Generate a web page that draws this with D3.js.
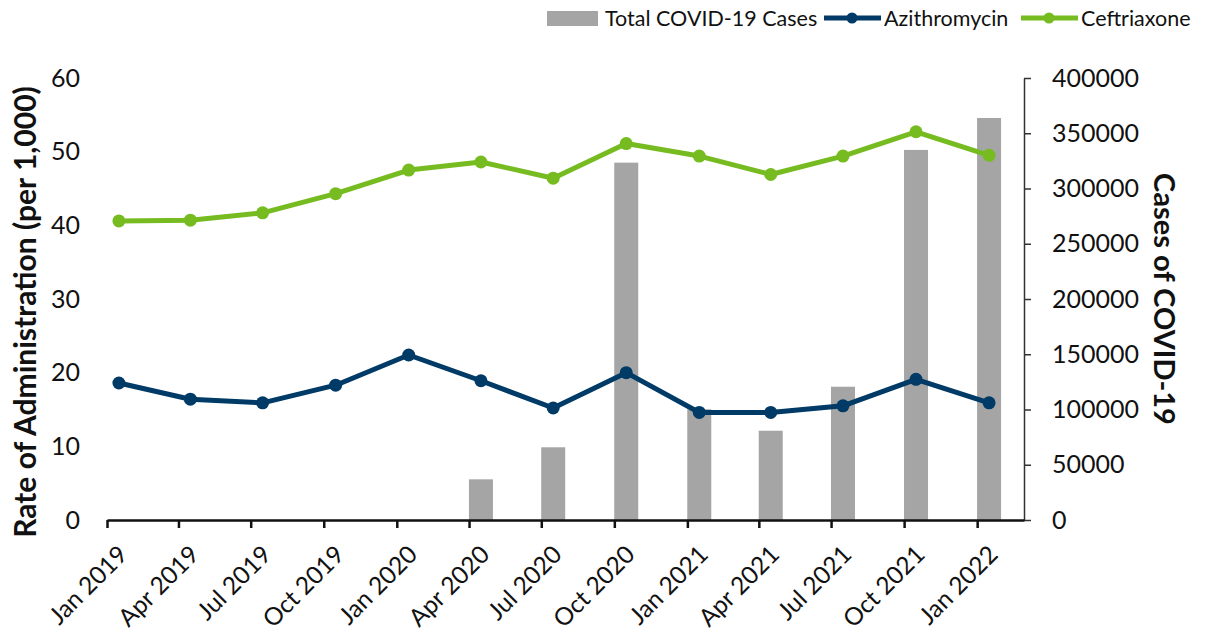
<!DOCTYPE html>
<html>
<head>
    <title>Antibiotic administration and COVID-19 cases</title>
    <style>
        body { margin: 0; background: #fff; }
        svg text { font-family: Lato, "Open Sans", sans-serif; fill: #111; }
        .axis-title { font-weight: bold; }
    </style>
</head>
<body>
    <div id="chart"></div>

    <script src="https://d3js.org/d3.v7.min.js"></script>
    <script>
        // quarterly data
        const categories = ["Jan 2019", "Apr 2019", "Jul 2019", "Oct 2019", "Jan 2020", "Apr 2020",
            "Jul 2020", "Oct 2020", "Jan 2021", "Apr 2021", "Jul 2021", "Oct 2021", "Jan 2022"];
        const covidCases = [0, 0, 0, 0, 0, 36800, 65800, 323400, 100200, 80800, 120600, 334900, 363800];
        const azithromycin = [18.6, 16.4, 15.9, 18.3, 22.4, 18.9, 15.2, 20.0, 14.6, 14.6, 15.5, 19.1, 15.9];
        const ceftriaxone = [40.6, 40.7, 41.7, 44.3, 47.5, 48.6, 46.4, 51.1, 49.4, 46.9, 49.4, 52.7, 49.5];
        const rateTicks = [0, 10, 20, 30, 40, 50, 60];
        const caseTicks = [0, 50000, 100000, 150000, 200000, 250000, 300000, 350000, 400000];

        const width = 1208;
        const height = 641;
        const plot = { left: 107, right: 1024, top: 78, bottom: 520 };

        const parse = d3.timeParse("%b %Y");
        const tickDates = categories.map(parse);
        // values sit in the middle of each month
        const pointDates = tickDates.map(d => d3.timeDay.offset(d, 15));

        const x = d3.scaleTime()
            .domain([tickDates[0], d3.timeMonth.offset(tickDates[tickDates.length - 1], 2)])
            .range([plot.left, plot.right]);
        const yRate = d3.scaleLinear().domain([0, 60]).range([plot.bottom, plot.top]);
        const yCases = d3.scaleLinear().domain([0, 400000]).range([plot.bottom, plot.top]);

        const svg = d3.select("#chart")
            .append("svg")
            .attr("width", width)
            .attr("height", height);

        // Draw bars
        const barWidth = 24;
        svg.selectAll(".bar")
            .data(covidCases)
            .enter()
            .append("rect")
            .attr("class", "bar")
            .attr("x", (d, i) => x(pointDates[i]) - barWidth / 2)
            .attr("y", d => yCases(d))
            .attr("width", barWidth)
            .attr("height", d => plot.bottom - yCases(d))
            .attr("fill", "#a5a5a5");

        // Left axis (labels only)
        const leftAxis = svg.append("g")
            .attr("transform", `translate(${plot.left},0)`)
            .call(d3.axisLeft(yRate).tickValues(rateTicks).tickSize(0).tickPadding(27));
        leftAxis.select(".domain").remove();
        leftAxis.selectAll("text").style("font-size", "25px").style("font-family", "Lato, sans-serif").attr("fill", "#111");

        // Right axis
        const rightAxis = svg.append("g")
            .attr("transform", `translate(${plot.right},0)`)
            .call(d3.axisRight(yCases).tickValues(caseTicks).tickFormat(d3.format("d"))
                .tickSize(7).tickPadding(21).tickSizeOuter(0));
        rightAxis.selectAll("text").style("font-size", "25px").style("font-family", "Lato, sans-serif").attr("fill", "#111");
        rightAxis.selectAll("line, path").attr("stroke", "#333").attr("stroke-width", 1.5);

        // Bottom axis
        const bottomAxis = svg.append("g")
            .attr("transform", `translate(0,${plot.bottom})`)
            .call(d3.axisBottom(x).tickValues(tickDates).tickSize(8).tickSizeOuter(0).tickFormat(""));
        bottomAxis.selectAll("line, path").attr("stroke", "#111").attr("stroke-width", 2.5);

        svg.append("g")
            .selectAll("text")
            .data(categories)
            .enter()
            .append("text")
            .attr("transform", (d, i) => `translate(${x(tickDates[i]) + 16},${plot.bottom + 30}) rotate(-45)`)
            .attr("text-anchor", "end")
            .attr("dy", "0.35em")
            .style("font-size", "24.5px")
            .text(d => d);

        // Lines
        const series = [
            { name: "Azithromycin", values: azithromycin, color: "#003a66" },
            { name: "Ceftriaxone", values: ceftriaxone, color: "#76bc21" }
        ];
        const line = d3.line()
            .x((d, i) => x(pointDates[i]))
            .y(d => yRate(d));

        series.forEach(s => {
            svg.append("path")
                .datum(s.values)
                .attr("fill", "none")
                .attr("stroke", s.color)
                .attr("stroke-width", 5)
                .attr("stroke-linejoin", "round")
                .attr("d", line);
            svg.append("g")
                .selectAll("circle")
                .data(s.values)
                .enter()
                .append("circle")
                .attr("cx", (d, i) => x(pointDates[i]))
                .attr("cy", d => yRate(d))
                .attr("r", 6.5)
                .attr("fill", s.color);
        });

        // Axis titles
        svg.append("text")
            .attr("class", "axis-title")
            .attr("transform", `translate(36,312) rotate(-90)`)
            .attr("text-anchor", "middle")
            .style("font-size", "30px")
            .text("Rate of Administration (per 1,000)");

        svg.append("text")
            .attr("class", "axis-title")
            .attr("transform", `translate(1154,${(plot.top + plot.bottom) / 2}) rotate(90)`)
            .attr("text-anchor", "middle")
            .style("font-size", "29px")
            .text("Cases of COVID-19");

        // Legend
        const legend = svg.append("g").attr("transform", "translate(0,18)");
        legend.append("rect")
            .attr("x", 547).attr("y", -7).attr("width", 51).attr("height", 15)
            .attr("fill", "#a5a5a5");
        legend.append("text").attr("x", 605).attr("dy", "0.35em")
            .style("font-size", "21.5px").text("Total COVID-19 Cases");

        const legendLines = [
            { x0: 824, label: "Azithromycin", color: "#003a66" },
            { x0: 1021, label: "Ceftriaxone", color: "#76bc21" }
        ];
        legendLines.forEach(l => {
            legend.append("line")
                .attr("x1", l.x0).attr("x2", l.x0 + 57)
                .attr("stroke", l.color).attr("stroke-width", 5);
            legend.append("circle")
                .attr("cx", l.x0 + 28).attr("r", 5.5).attr("fill", l.color);
            legend.append("text").attr("x", l.x0 + 60).attr("dy", "0.35em")
                .style("font-size", "21.5px").text(l.label);
        });
    </script>
</body>
</html>
